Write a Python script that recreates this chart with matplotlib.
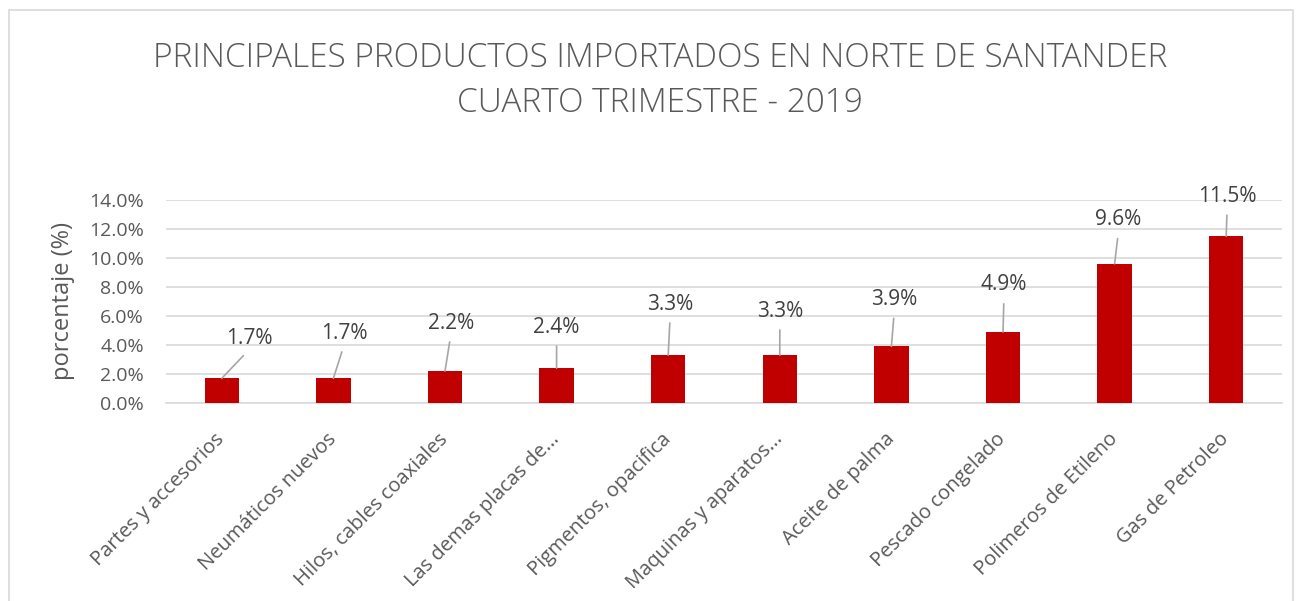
import matplotlib
matplotlib.use("Agg")
import matplotlib.pyplot as plt
from matplotlib.patches import Rectangle
from matplotlib.ticker import FuncFormatter, MultipleLocator

# data
categories = ["Partes y accesorios", "Neumáticos nuevos", "Hilos, cables coaxiales",
              "Las demas placas de...", "Pigmentos, opacifica", "Maquinas y aparatos...",
              "Aceite de palma", "Pescado congelado", "Polimeros de Etileno",
              "Gas de Petroleo"]
values = [1.7, 1.7, 2.2, 2.4, 3.3, 3.3, 3.9, 4.9, 9.6, 11.5]
title = "PRINCIPALES PRODUCTOS IMPORTADOS EN NORTE DE SANTANDER\nCUARTO TRIMESTRE - 2019"

# label offsets in pixels (dx, dy) from the top of each bar
label_offsets = [(28, 40), (11, 45), (6, 48), (0, 41), (2, 51),
                 (0, 44), (3, 47), (1, 47), (4, 44), (1, 40)]

plt.rcParams["font.family"] = ["Open Sans", "DejaVu Sans"]
text_gray = "#595959"

fig = plt.figure(figsize=(13, 6.01), dpi=100)
ax = fig.add_axes([166 / 1300, 1 - 403 / 601, (1282 - 166) / 1300, (403 - 200) / 601])

x = range(len(values))
ax.bar(x, values, width=0.31, color="#C00000", zorder=3)

ax.set_xlim(-0.5, len(values) - 0.5)
ax.set_ylim(0, 14)
ax.yaxis.set_major_locator(MultipleLocator(2))
ax.yaxis.set_major_formatter(FuncFormatter(lambda v, p: "{:.1f}%".format(v)))
ax.grid(axis="y", color="#D9D9D9", linewidth=1.2, zorder=0)
for s in ("top", "right", "left"):
    ax.spines[s].set_visible(False)
ax.spines["bottom"].set_color("#D9D9D9")
ax.spines["bottom"].set_linewidth(1.2)
ax.tick_params(axis="y", length=0, pad=16, labelsize=14, labelcolor=text_gray)
ax.tick_params(axis="x", length=0, pad=24, labelsize=14.5, labelcolor=text_gray)
ax.set_xticks(list(x))
ax.set_xticklabels(categories, rotation=45, ha="right", va="center",
                   rotation_mode="anchor")
ax.set_ylabel("porcentaje (%)", fontsize=17, color=text_gray, labelpad=10)

for i, v in enumerate(values):
    dx, dy = label_offsets[i]
    ax.annotate("{:.1f}%".format(v), xy=(i, v), xytext=(dx, dy),
                textcoords="offset pixels", ha="center", va="center",
                fontsize=15, color="#404040",
                arrowprops=dict(arrowstyle="-", color="#A6A6A6", lw=1.2,
                                relpos=(0.5, 0), shrinkA=4, shrinkB=0))

fig.text(0.508, 1 - 81 / 601, title, ha="center", va="center", fontsize=24,
         fontweight="light", color=text_gray, linespacing=1.45)

fig.patches.append(Rectangle((9 / 1300, -0.01), 1284 / 1300, 1 - 10 / 601 + 0.01,
                             transform=fig.transFigure, fill=False,
                             edgecolor="#D9D9D9", linewidth=1.2))

fig.savefig("out.png", dpi=100)
